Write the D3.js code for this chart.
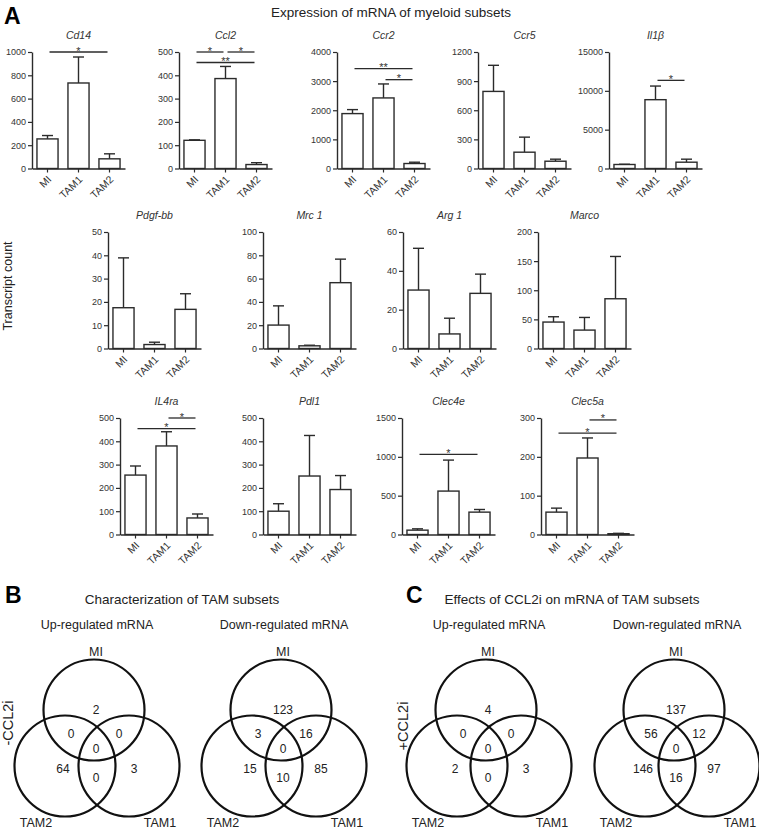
<!DOCTYPE html>
<html><head><meta charset="utf-8">
<script src="https://cdn.jsdelivr.net/npm/d3@7"></script>
<style>
body{margin:0;background:#fff}
svg{display:block;font-family:"Liberation Sans",Arial,Helvetica,sans-serif}
</style>
</head><body>
<svg id="chart" width="759" height="831"></svg>
<script>
// ---------- DATA ----------
const groups = ["MI", "TAM1", "TAM2"];
const genes = ["Cd14", "Ccl2", "Ccr2", "Ccr5", "Il1β", "Pdgf-bb", "Mrc 1", "Arg 1", "Marco", "IL4ra", "Pdl1", "Clec4e", "Clec5a"];
const means = [
  [254, 734, 83], [121, 386, 17], [1885, 2423, 171], [794, 168, 75], [516, 8860, 812],
  [17.5, 1.7, 16.8], [20.1, 2.3, 56.5], [30.1, 7.5, 28.4], [45.4, 31.6, 85.4],
  [255, 380, 71], [100, 251, 193], [56, 559, 288], [57.6, 197, 2]
];
const sems = [
  [29, 223, 43], [2, 52, 8], [137, 480, 45], [269, 155, 21], [30, 1755, 388],
  [21.4, 1.0, 6.7], [16.5, 0.5, 20.2], [21.5, 8.1, 9.9], [9.1, 21.7, 72.6],
  [39, 61, 17], [32, 174, 60], [17, 399, 34], [10.3, 51.6, 1]
];
const yMax = [1000, 500, 4000, 1200, 15000, 50, 100, 60, 200, 500, 500, 1500, 300];
const yStep = [200, 100, 1000, 300, 5000, 10, 20, 20, 50, 100, 100, 500, 100];
// significance brackets: gene, from group, to group, level, label
const sigBars = [
  ["Cd14", "MI", "TAM2", 1000, "*"],
  ["Ccl2", "MI", "TAM1", 500, "*"],
  ["Ccl2", "TAM1", "TAM2", 500, "*"],
  ["Ccl2", "MI", "TAM2", 455, "**"],
  ["Ccr2", "MI", "TAM2", 3430, "**"],
  ["Ccr2", "TAM1", "TAM2", 3050, "*"],
  ["Il1β", "TAM1", "TAM2", 11350, "*"],
  ["IL4ra", "TAM1", "TAM2", 500, "*"],
  ["IL4ra", "MI", "TAM2", 454, "*"],
  ["Clec4e", "MI", "TAM2", 1032, "*"],
  ["Clec5a", "TAM1", "TAM2", 295, "*"],
  ["Clec5a", "MI", "TAM2", 261, "*"]
];
// Venn diagrams: regions = [MI only, MI∩TAM2, MI∩TAM1, all, TAM2 only, TAM2∩TAM1, TAM1 only]
const vennSets = ["MI", "TAM2", "TAM1"];
const vennTitles = ["Up-regulated mRNA", "Down-regulated mRNA", "Up-regulated mRNA", "Down-regulated mRNA"];
const vennUpMinus = [2, 0, 0, 0, 64, 0, 3];
const vennDownMinus = [123, 3, 16, 0, 15, 10, 85];
const vennUpPlus = [4, 0, 0, 0, 2, 0, 3];
const vennDownPlus = [137, 56, 12, 0, 146, 16, 97];

// ---------- LAYOUT ----------
const svg = d3.select("#chart");
const ink = "#2b2b2b";
const rows = [
  {top: 52, axes: [32, 179, 337, 478, 609], genes: [0, 1, 2, 3, 4]},
  {top: 232, axes: [108, 263, 403, 538], genes: [5, 6, 7, 8]},
  {top: 418, axes: [120, 263, 402, 541], genes: [9, 10, 11, 12]}
];
const plotH = 116.5, plotW = 93;

function panel(gi, ax, top) {
  const bottom = top + plotH;
  const x = d3.scaleBand().domain(groups).range([ax, ax + plotW]).paddingInner(0.32).paddingOuter(0.16);
  const y = d3.scaleLinear().domain([0, yMax[gi]]).range([bottom, top]);
  const g = svg.append("g");
  const cx = d => x(d) + x.bandwidth() / 2;
  const rowData = groups.map((d, i) => ({g: d, m: means[gi][i], e: means[gi][i] + sems[gi][i]}));

  // error bars
  const eb = g.selectAll("g.err").data(rowData).join("g").attr("class", "err");
  eb.append("line").attr("x1", d => cx(d.g)).attr("x2", d => cx(d.g))
    .attr("y1", d => y(d.m)).attr("y2", d => y(d.e)).attr("stroke", ink).attr("stroke-width", 1.4);
  eb.append("line").attr("x1", d => cx(d.g) - 5.5).attr("x2", d => cx(d.g) + 5.5)
    .attr("y1", d => y(d.e)).attr("y2", d => y(d.e)).attr("stroke", ink).attr("stroke-width", 1.4);
  // bars
  g.selectAll("rect").data(rowData).join("rect")
    .attr("x", d => x(d.g)).attr("y", d => y(d.m))
    .attr("width", x.bandwidth()).attr("height", d => bottom - y(d.m))
    .attr("fill", "#fff").attr("stroke", ink).attr("stroke-width", 1.4);

  // y axis
  const ya = d3.axisLeft(y).tickValues(d3.range(0, yMax[gi] + 1e-9, yStep[gi]))
    .tickSize(4).tickSizeOuter(0).tickPadding(2).tickFormat(d3.format("d"));
  const yg = g.append("g").attr("transform", `translate(${ax},0)`).call(ya);
  // x axis
  const xa = d3.axisBottom(x).tickSize(4).tickSizeOuter(0);
  const xg = g.append("g").attr("transform", `translate(0,${bottom})`).call(xa);
  xg.selectAll("text").attr("y", 0).attr("x", 0).attr("dy", "0.35em")
    .attr("text-anchor", "end").attr("transform", "translate(2,9) rotate(-45)").style("font-size", "10.5px");
  [yg, xg].forEach(a => {
    a.select(".domain").attr("stroke", ink).attr("stroke-width", 1.4);
    a.selectAll(".tick line").attr("stroke", ink).attr("stroke-width", 1.2);
    a.selectAll("text").attr("fill", "#333");
    a.attr("font-family", null);
  });
  yg.selectAll("text").style("font-size", "9px");

  // title
  g.append("text").attr("x", cx("TAM1")).attr("y", top - 13).attr("text-anchor", "middle")
    .attr("font-style", "italic").attr("font-size", 10.5).attr("fill", "#333").text(genes[gi]);

  // significance
  sigBars.filter(s => s[0] === genes[gi]).forEach(s => {
    const x1 = cx(s[1]) + 2, x2 = cx(s[2]) - 2, yy = y(s[3]);
    g.append("line").attr("x1", x1).attr("x2", x2).attr("y1", yy).attr("y2", yy)
      .attr("stroke", ink).attr("stroke-width", 1.3);
    g.append("text").attr("x", (x1 + x2) / 2).attr("y", yy + 2.5).attr("text-anchor", "middle")
      .attr("font-size", 11).attr("fill", "#333").text(s[4]);
  });
}
rows.forEach(r => r.genes.forEach((gi, k) => panel(gi, r.axes[k], r.top)));

// Header A
svg.append("text").attr("x", 4).attr("y", 24).attr("font-size", 23).attr("font-weight", "bold").text("A");
svg.append("text").attr("x", 391).attr("y", 17).attr("text-anchor", "middle").attr("font-size", 13.5).attr("fill", "#222")
  .text("Expression of mRNA of myeloid subsets");
svg.append("text").attr("transform", "translate(12,286) rotate(-90)").attr("text-anchor", "middle")
  .attr("font-size", 12.5).attr("fill", "#222").text("Transcript count");

// ---------- VENN ----------
svg.append("text").attr("x", 5).attr("y", 603).attr("font-size", 23).attr("font-weight", "bold").text("B");
svg.append("text").attr("x", 406).attr("y", 603).attr("font-size", 23).attr("font-weight", "bold").text("C");
svg.append("text").attr("x", 182).attr("y", 604).attr("text-anchor", "middle").attr("font-size", 13.5).attr("fill", "#222")
  .text("Characterization of TAM subsets");
svg.append("text").attr("x", 572).attr("y", 604).attr("text-anchor", "middle").attr("font-size", 13.5).attr("fill", "#222")
  .text("Effects of CCL2i on mRNA of TAM subsets");
svg.append("text").attr("transform", "translate(12.5,723) rotate(-90)").attr("text-anchor", "middle")
  .attr("font-size", 14.5).attr("fill", "#222").text("-CCL2i");
svg.append("text").attr("transform", "translate(408,726) rotate(-90)").attr("text-anchor", "middle")
  .attr("font-size", 14.5).attr("fill", "#222").text("+CCL2i");

const vennData = [vennUpMinus, vennDownMinus, vennUpPlus, vennDownPlus];
const vennX = [97, 284, 489, 677];
const circleOff = [[-3, 710], [-32, 766], [32, 766]];
const regionOff = [[-1, 710], [-26, 734], [22, 734], [-1, 749], [-34, 769], [-1, 778], [37, 769]];
const setLabelOff = [[-1, 652], [-61, 823], [63, 823]];
vennData.forEach((vals, k) => {
  const c = vennX[k];
  const g = svg.append("g");
  g.append("text").attr("x", c).attr("y", 625).attr("dy", "0.35em").attr("text-anchor", "middle")
    .attr("font-size", 12.5).attr("fill", "#222").text(vennTitles[k]);
  g.selectAll("circle").data(circleOff).join("circle")
    .attr("cx", d => c + d[0]).attr("cy", d => d[1]).attr("r", 50.5)
    .attr("fill", "none").attr("stroke", "#111").attr("stroke-width", 2.2);
  g.selectAll("text.num").data(vals).join("text").attr("class", "num")
    .attr("x", (d, i) => c + regionOff[i][0]).attr("y", (d, i) => regionOff[i][1]).attr("dy", "0.35em")
    .attr("text-anchor", "middle").attr("font-size", 12).attr("fill", "#222").text(d => d);
  g.selectAll("text.set").data(vennSets).join("text").attr("class", "set")
    .attr("x", (d, i) => c + setLabelOff[i][0]).attr("y", (d, i) => setLabelOff[i][1]).attr("dy", "0.35em")
    .attr("text-anchor", "middle").attr("font-size", 12.5).attr("fill", "#222").text(d => d);
});
</script>
</body></html>
